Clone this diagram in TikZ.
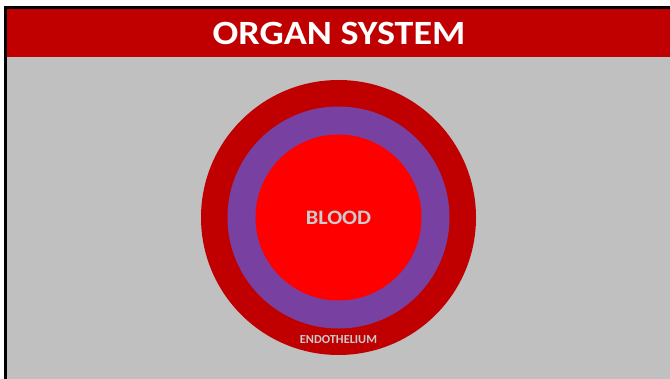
\documentclass[tikz,border=0pt]{standalone}
\usepackage{fontspec}
\setmainfont{Carlito}
\usepackage{xcolor}
\usepackage{tikz}

\definecolor{darkred}{HTML}{C00000}
\definecolor{vesselpurple}{HTML}{7840A0}
\definecolor{bloodred}{HTML}{FF0000}
\definecolor{slidegray}{HTML}{C0C0C0}
\definecolor{labelgray}{HTML}{CBCBCB}

\tikzset{
    ring/.style={draw=none, circle, inner sep=0pt, minimum size=#1},
    label text/.style={font=\bfseries, text=labelgray, inner sep=0pt},
}

\begin{document}
\begin{tikzpicture}[x=1pt, y=-1pt]
    \useasboundingbox (0,0) rectangle (670,379);
    \fill[white] (0,0) rectangle (670,379);
    \coordinate (C) at (338.5, 217.5);
    % slide frame and title band
    \draw[line width=2.5pt, fill=slidegray] (5.5,7.5) rectangle (675,385);
    \fill[darkred] (6.8,8.8) rectangle (670,57);
    \node[font=\bfseries\fontsize{34}{34}\selectfont, text=white, inner sep=0pt, xscale=1.12] (title) at (339, 33) {ORGAN SYSTEM};
    % vessel layers
    \node[ring=275pt, fill=darkred] (wall) at (C) {};
    \node[ring=222pt, fill=vesselpurple] (endo) at (C) {};
    \node[ring=166pt, fill=bloodred] (lumen) at (C) {};
    \node[label text, font=\bfseries\fontsize{20.5}{20.5}\selectfont, xscale=1.08] (blood) at (C) {BLOOD};
    \node[label text, font=\bfseries\fontsize{12.3}{12.3}\selectfont] (endolabel) at (338.5, 339.5) {ENDOTHELIUM};
\end{tikzpicture}
\end{document}
